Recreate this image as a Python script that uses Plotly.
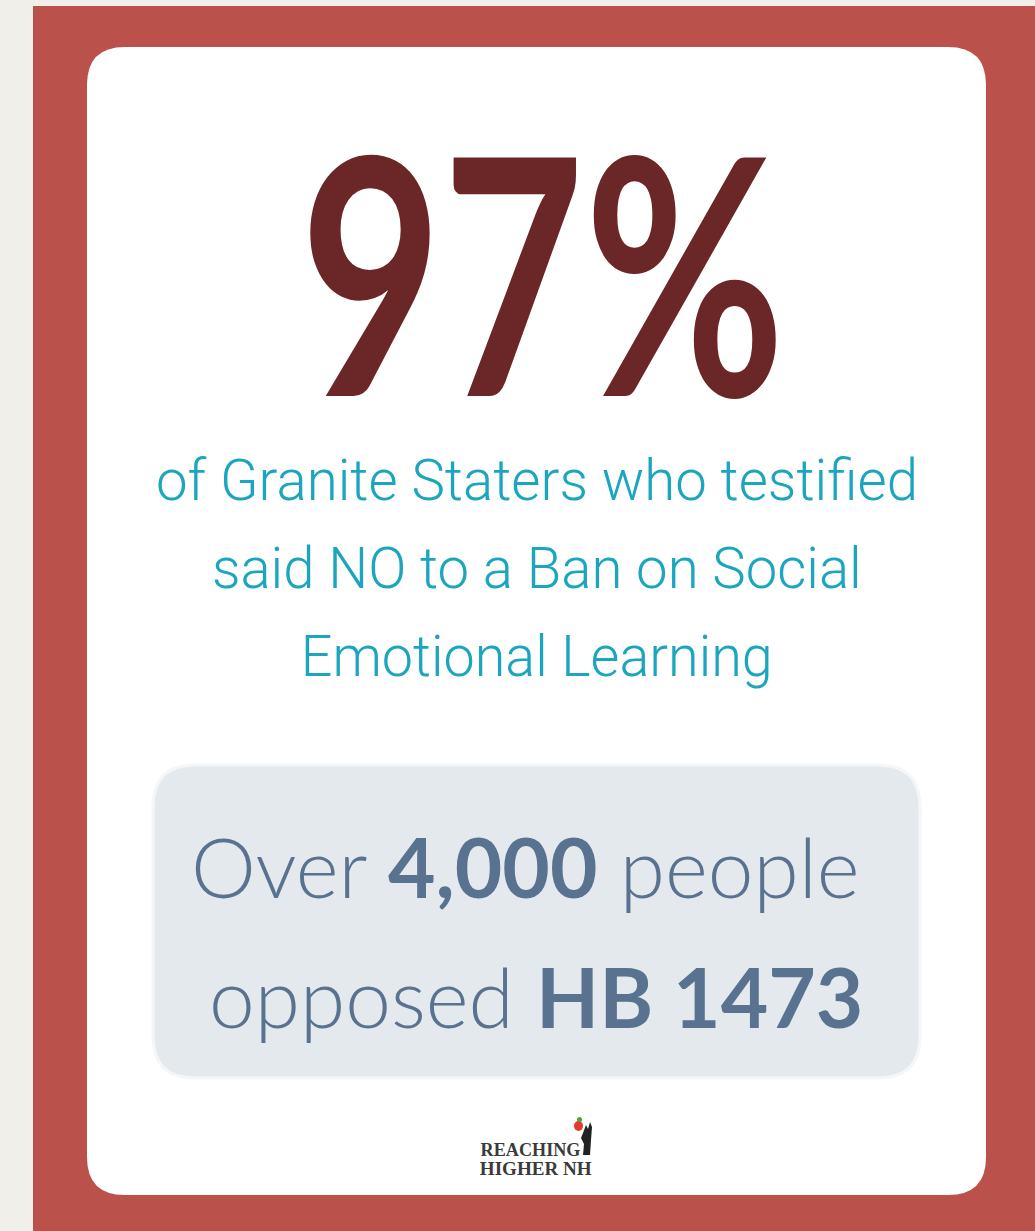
import plotly.graph_objects as go

W, H = 1035, 1231

# ---- content ----
headline_value = 97
headline_suffix = "%"
subtitle_lines = ["of Granite Staters who testified",
                  "said NO to a Ban on Social",
                  "Emotional Learning"]
people_count = "4,000"
bill_name = "HB 1473"
logo_lines = ["REACHING", "HIGHER NH"]

# ---- colours ----
BG = "#f1efea"
RED = "#bb514b"
CARD = "#ffffff"
DARK_RED = "#6b2627"
TEAL = "#1ba5bf"
BOX = "#e4e9ee"
SLATE = "#587290"


def rrect(x0, y0, x1, y1, r):
    return (f"M{x0+r},{y0} L{x1-r},{y0} Q{x1},{y0} {x1},{y0+r} "
            f"L{x1},{y1-r} Q{x1},{y1} {x1-r},{y1} L{x0+r},{y1} "
            f"Q{x0},{y1} {x0},{y1-r} L{x0},{y0+r} Q{x0},{y0} {x0+r},{y0} Z")


fig = go.Figure()
fig.add_trace(go.Scatter(x=[0, W], y=[0, H], mode="markers",
                         marker=dict(opacity=0), hoverinfo="skip", showlegend=False))

shapes = [
    dict(type="rect", x0=33, y0=6, x1=W, y1=H, fillcolor=RED, line=dict(width=0), layer="below"),
    dict(type="path", path=rrect(87, 47, 986, 1195, 38), fillcolor=CARD, line=dict(width=0), layer="below"),
    dict(type="path", path=rrect(153, 765, 920, 1078, 42), fillcolor=BOX,
         line=dict(width=3, color="#f4f6f8"), layer="below"),
    # logo: hand + apple
    dict(type="path", path="M583,1133 L586,1125 L588,1129 L590,1122 L592,1127 L591,1140 L590,1155 L583,1155 L584,1144 L581,1138 Z",
         fillcolor="#222222", line=dict(width=0)),
    dict(type="circle", x0=574, y0=1121, x1=583, y1=1131, fillcolor="#e23a2e", line=dict(width=0)),
    dict(type="circle", x0=577, y0=1117, x1=582, y1=1122, fillcolor="#4aa63a", line=dict(width=0)),
]

annotations = [
    dict(x=542, y=268, text=f"{headline_value}{headline_suffix}", showarrow=False,
         font=dict(family="Lato", size=330, color=DARK_RED, weight=700),
         xanchor="center", yanchor="middle"),
]
for i, line in enumerate(subtitle_lines):
    annotations.append(dict(x=537, y=480 + i * 88, text=line, showarrow=False,
                            font=dict(family="Roboto", size=58, color=TEAL, weight=300),
                            xanchor="center", yanchor="middle"))
annotations.append(dict(x=525, y=866, text=f"Over <b>{people_count}</b> people", showarrow=False,
                        font=dict(family="Lato", size=82, color=SLATE, weight=300),
                        xanchor="center", yanchor="middle"))
annotations.append(dict(x=536, y=996, text=f"opposed <b>{bill_name}</b>", showarrow=False,
                        font=dict(family="Lato", size=82, color=SLATE, weight=300),
                        xanchor="center", yanchor="middle"))
annotations.append(dict(x=530, y=1150, text=logo_lines[0], showarrow=False,
                        font=dict(family="Liberation Serif", size=18, color="#3a3a3a", weight=700),
                        xanchor="center", yanchor="middle"))
annotations.append(dict(x=536, y=1169, text=logo_lines[1], showarrow=False,
                        font=dict(family="Liberation Serif", size=18, color="#3a3a3a", weight=700),
                        xanchor="center", yanchor="middle"))

fig.update_layout(
    width=W, height=H, margin=dict(l=0, r=0, t=0, b=0),
    paper_bgcolor=BG, plot_bgcolor=BG,
    xaxis=dict(range=[0, W], visible=False, fixedrange=True),
    yaxis=dict(range=[H, 0], visible=False, fixedrange=True),
    shapes=shapes, annotations=annotations, showlegend=False,
)

# condense selected annotation texts horizontally to the reference's widths
post = """
document.body.style.margin='0';
var gd = document.getElementById('{plot_id}');
var targets = {0: 485, 1: 762, 2: 650, 3: 472, 6: 100, 7: 112};
Object.keys(targets).forEach(function(k){
  var t = gd.querySelector('.annotation[data-index="'+k+'"] text.annotation-text');
  if(!t) return;
  var b = t.getBBox();
  var s = targets[k] / b.width;
  if(!(s>0) || s>1.3) return;
  var cx = b.x + b.width/2;
  t.setAttribute('transform', 'translate('+cx+',0) scale('+s+',1) translate('+(-cx)+',0)');
});
"""

fig.write_html("out.html", config={"displayModeBar": False, "staticPlot": True},
               post_script=post)
